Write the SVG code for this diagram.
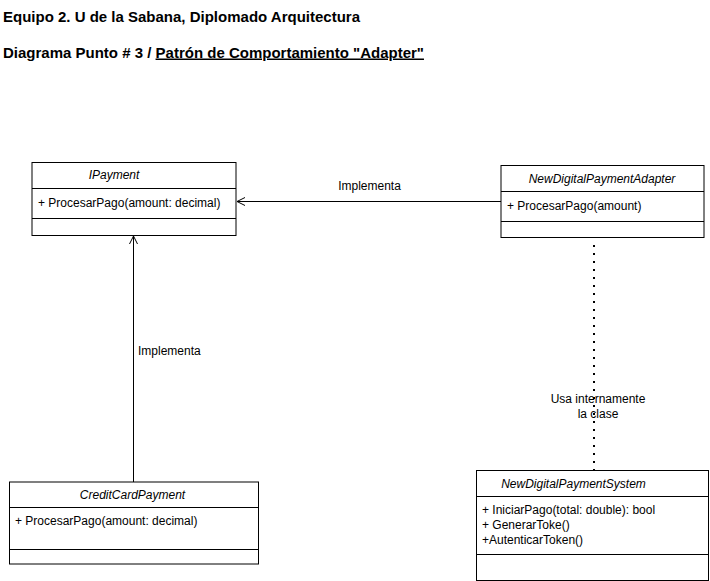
<svg xmlns="http://www.w3.org/2000/svg" width="710" height="581" viewBox="0 0 710 581">
<defs>
<style>
text{font-family:"Liberation Sans",Arial,sans-serif;font-size:12px;fill:#000}
.title{font-weight:bold;font-size:15px}
.hdr{font-style:italic;text-anchor:middle}
.box{fill:#fff;stroke:#000;stroke-width:1}
.div{stroke:#000;stroke-width:1}
.conn{fill:none;stroke:#000;stroke-width:1}
.dot{fill:none;stroke:#000;stroke-width:2;stroke-dasharray:2 6}
</style>
<marker id="open" markerWidth="10" markerHeight="10" refX="9" refY="5" orient="auto" markerUnits="userSpaceOnUse">
<path d="M1,1 L9,5 L1,9" fill="none" stroke="#000" stroke-width="1"/>
</marker>
</defs>
<rect width="710" height="581" fill="#fff"/>
<text class="title" x="3" y="21.5">Equipo 2. U de la Sabana, Diplomado Arquitectura</text>
<text class="title" x="3" y="57.5">Diagrama Punto # 3 / <tspan text-decoration="underline">Patrón de Comportamiento "Adapter"</tspan></text>

<g id="connectors">
<line class="conn" x1="501" y1="201.5" x2="237" y2="201.5" marker-end="url(#open)"/>
<line class="conn" x1="133.5" y1="482" x2="133.5" y2="236" marker-end="url(#open)"/>
<line class="dot" x1="594" y1="245" x2="594" y2="470"/>
<text x="369.5" y="190" text-anchor="middle">Implementa</text>
<text x="138" y="355">Implementa</text>
<text x="598" y="402.5" text-anchor="middle">Usa internamente</text>
<text x="598" y="417.5" text-anchor="middle">la clase</text>
</g>

<g id="IPayment">
<rect class="box" x="32" y="162.5" width="204" height="73"/>
<line class="div" x1="32" y1="188.5" x2="236" y2="188.5"/>
<line class="div" x1="32" y1="218.5" x2="236" y2="218.5"/>
<text class="hdr" x="114" y="179">IPayment</text>
<text x="38" y="207">+ ProcesarPago(amount: decimal)</text>
</g>

<g id="NewDigitalPaymentAdapter">
<rect class="box" x="501" y="165.5" width="203" height="72"/>
<line class="div" x1="501" y1="191.5" x2="704" y2="191.5"/>
<line class="div" x1="501" y1="221.5" x2="704" y2="221.5"/>
<text class="hdr" x="602" y="183">NewDigitalPaymentAdapter</text>
<text x="507" y="210">+ ProcesarPago(amount)</text>
</g>

<g id="NewDigitalPaymentSystem">
<rect class="box" x="476.5" y="470.5" width="232" height="110"/>
<line class="div" x1="476.5" y1="496.5" x2="708.5" y2="496.5"/>
<line class="div" x1="476.5" y1="554.5" x2="708.5" y2="554.5"/>
<text class="hdr" x="573.5" y="488">NewDigitalPaymentSystem</text>
<text x="482" y="514">+ IniciarPago(total: double): bool</text>
<text x="482" y="529">+ GenerarToke()</text>
<text x="482" y="544">+AutenticarToken()</text>
</g>

<g id="CreditCardPayment">
<rect class="box" x="9.5" y="482" width="249" height="82"/>
<line class="div" x1="9.5" y1="507.5" x2="258.5" y2="507.5"/>
<line class="div" x1="9.5" y1="549.5" x2="258.5" y2="549.5"/>
<text class="hdr" x="132.5" y="499">CreditCardPayment</text>
<text x="15" y="525">+ ProcesarPago(amount: decimal)</text>
</g>
</svg>
